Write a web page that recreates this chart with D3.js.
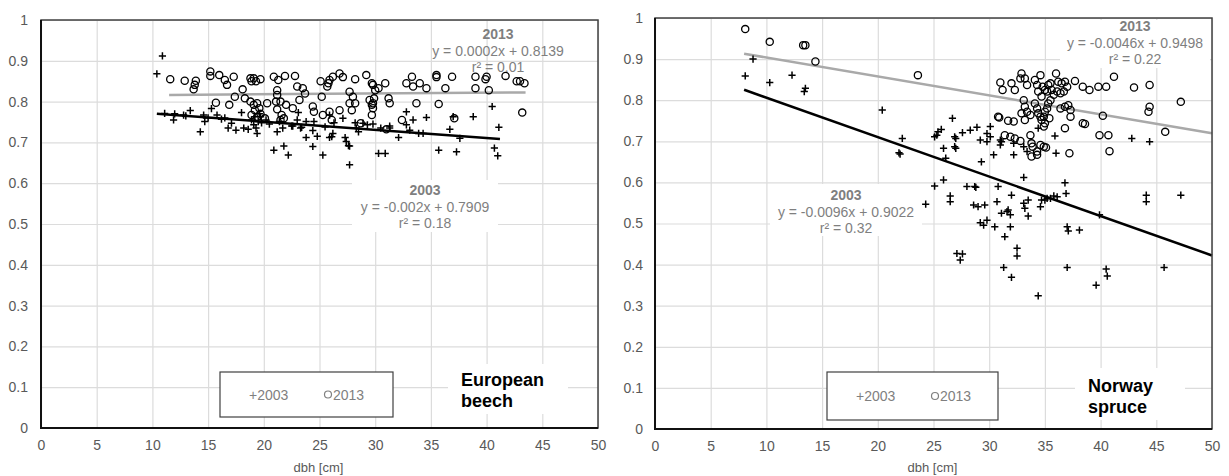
<!DOCTYPE html>
<html>
<head>
<meta charset="utf-8">
<script src="https://cdn.jsdelivr.net/npm/d3@7"></script>
<style>
  body { margin: 0; background: #fff; }
  svg text { font-family: Arial, "Liberation Sans", sans-serif; }
</style>
</head>
<body>
<svg id="chart" width="1229" height="476"></svg>
<script>
// tick labels
const xTicks = [0, 5, 10, 15, 20, 25, 30, 35, 40, 45, 50];
const yTicks = [0, 0.1, 0.2, 0.3, 0.4, 0.5, 0.6, 0.7, 0.8, 0.9, 1];
const years = ["2003", "2013"];

// [dbh, value]
const beech2003 = [[10.4,0.868],[10.9,0.912],[11.1,0.771],[11.9,0.755],[12.8,0.767],[13.4,0.778],[14.3,0.726],[14.6,0.767],[14.7,0.751],[15.3,0.783],[15.8,0.767],[16.2,0.757],[16.8,0.735],[17.1,0.747],[17.5,0.730],[18.0,0.773],[18.2,0.735],[18.6,0.732],[18.9,0.755],[19.1,0.743],[19.2,0.763],[19.3,0.735],[19.4,0.722],[19.5,0.751],[19.7,0.763],[20.9,0.681],[21.2,0.726],[21.4,0.751],[21.8,0.691],[21.7,0.735],[22.2,0.669],[22.5,0.740],[23.0,0.755],[23.1,0.773],[23.4,0.737],[23.8,0.712],[23.8,0.751],[24.4,0.690],[24.5,0.751],[24.4,0.729],[24.8,0.715],[25.3,0.669],[25.5,0.738],[25.9,0.712],[26.2,0.722],[26.3,0.748],[27.1,0.759],[27.3,0.712],[27.4,0.702],[27.7,0.691],[27.7,0.645],[28.2,0.748],[28.5,0.726],[28.9,0.747],[30.3,0.673],[30.9,0.673],[32.1,0.712],[32.8,0.775],[32.8,0.743],[33.4,0.755],[33.1,0.730],[33.9,0.722],[34.3,0.722],[34.6,0.761],[35.7,0.681],[36.7,0.732],[37.0,0.763],[37.3,0.677],[37.6,0.710],[38.8,0.763],[40.5,0.788],[40.7,0.686],[41.0,0.667],[41.1,0.737],[31.3,0.740],[22.6,0.740],[23.3,0.735],[26.1,0.714],[27.6,0.692],[28.3,0.735],[29.3,0.743],[31.3,0.735],[25.9,0.767],[19.8,0.748],[20.2,0.755],[20.5,0.745],[19.6,0.770],[12.0,0.770],[13.0,0.765],[16.5,0.760],[29.8,0.745],[30.5,0.735],[15.0,0.760]];

const beech2013 = [[11.6,0.855],[12.9,0.851],[13.9,0.851],[13.8,0.841],[13.7,0.830],[15.2,0.874],[15.2,0.863],[16.0,0.865],[16.5,0.853],[16.7,0.841],[17.3,0.861],[15.7,0.797],[16.9,0.792],[17.4,0.812],[18.1,0.830],[18.8,0.857],[18.9,0.850],[19.1,0.857],[19.3,0.850],[19.7,0.855],[18.3,0.808],[18.8,0.800],[19.1,0.792],[19.4,0.796],[19.6,0.784],[19.2,0.779],[18.9,0.767],[19.4,0.763],[19.7,0.770],[20.1,0.759],[20.3,0.796],[20.9,0.861],[21.3,0.853],[21.9,0.863],[21.2,0.828],[21.2,0.816],[21.1,0.800],[21.5,0.800],[21.2,0.781],[21.6,0.767],[21.8,0.759],[21.5,0.755],[22.0,0.792],[22.6,0.784],[22.8,0.863],[23.0,0.837],[23.5,0.833],[23.7,0.820],[23.2,0.804],[24.4,0.788],[24.5,0.775],[25.2,0.812],[25.1,0.850],[25.8,0.845],[25.9,0.853],[26.2,0.861],[26.8,0.869],[27.1,0.860],[25.7,0.837],[25.3,0.767],[25.9,0.775],[26.1,0.755],[26.8,0.779],[27.7,0.824],[28.0,0.812],[27.7,0.796],[28.2,0.796],[27.9,0.779],[28.2,0.855],[29.2,0.865],[29.7,0.845],[29.5,0.804],[29.7,0.792],[29.7,0.767],[28.7,0.747],[29.8,0.841],[30.0,0.828],[30.3,0.833],[29.9,0.808],[29.8,0.796],[29.8,0.784],[30.9,0.845],[31.2,0.808],[31.3,0.796],[31.0,0.732],[32.4,0.755],[32.8,0.845],[33.3,0.861],[33.4,0.837],[34.0,0.845],[34.6,0.833],[33.7,0.796],[35.5,0.865],[35.5,0.860],[36.9,0.861],[36.3,0.833],[35.7,0.794],[37.1,0.759],[39.0,0.861],[39.0,0.833],[39.9,0.855],[40.0,0.861],[40.2,0.828],[41.7,0.863],[42.7,0.850],[43.0,0.850],[43.4,0.845],[43.2,0.773]];

const spruce2003 = [[8.8,0.900],[8.1,0.859],[10.3,0.843],[12.3,0.861],[13.5,0.829],[13.4,0.821],[20.4,0.776],[22.2,0.707],[21.9,0.672],[22.0,0.669],[25.3,0.715],[25.4,0.723],[25.7,0.729],[26.7,0.756],[25.9,0.683],[27.0,0.683],[27.0,0.707],[27.6,0.721],[28.3,0.727],[28.9,0.734],[26.1,0.659],[25.1,0.591],[25.9,0.606],[26.5,0.567],[26.5,0.553],[24.3,0.547],[28.0,0.590],[28.7,0.590],[28.6,0.545],[29.0,0.541],[27.1,0.427],[27.6,0.426],[27.4,0.411],[29.2,0.502],[29.8,0.719],[30.1,0.736],[29.2,0.703],[29.8,0.699],[30.1,0.711],[31.0,0.691],[31.1,0.699],[30.4,0.667],[29.3,0.650],[32.2,0.695],[32.2,0.667],[33.1,0.687],[33.4,0.675],[34.4,0.732],[35.9,0.713],[36.0,0.671],[42.8,0.707],[44.4,0.699],[33.1,0.612],[36.8,0.599],[36.9,0.573],[35.8,0.567],[36.1,0.565],[35.5,0.561],[35.0,0.557],[39.9,0.521],[44.1,0.569],[44.1,0.553],[47.2,0.569],[28.8,0.588],[29.6,0.545],[30.8,0.590],[30.7,0.553],[32.0,0.569],[29.8,0.508],[29.5,0.496],[30.5,0.492],[31.9,0.492],[31.1,0.525],[31.6,0.529],[31.9,0.521],[31.7,0.533],[33.1,0.549],[33.2,0.537],[33.5,0.557],[33.5,0.518],[34.6,0.541],[34.7,0.557],[35.2,0.561],[31.4,0.468],[32.5,0.440],[32.5,0.421],[31.3,0.393],[32.0,0.369],[34.4,0.324],[37.0,0.393],[37.0,0.492],[37.1,0.482],[38.1,0.484],[39.6,0.350],[40.5,0.389],[40.6,0.372],[45.7,0.393],[25.1,0.711],[26.9,0.711],[26.9,0.687],[31.0,0.703]];

const spruce2013 = [[8.1,0.973],[10.3,0.942],[13.3,0.934],[13.5,0.934],[14.4,0.894],[23.6,0.861],[31.0,0.843],[31.2,0.825],[30.9,0.758],[31.7,0.750],[32.2,0.748],[31.4,0.715],[31.9,0.711],[32.3,0.707],[32.8,0.701],[32.0,0.841],[32.3,0.825],[32.8,0.853],[32.9,0.865],[33.2,0.853],[33.4,0.837],[33.1,0.800],[33.2,0.784],[33.4,0.772],[32.9,0.768],[33.7,0.764],[33.2,0.752],[33.7,0.715],[33.8,0.695],[33.9,0.687],[34.3,0.667],[33.8,0.663],[34.3,0.675],[34.6,0.691],[34.9,0.687],[34.1,0.849],[34.3,0.837],[34.6,0.861],[34.4,0.821],[34.7,0.809],[34.8,0.833],[35.0,0.825],[35.2,0.821],[35.3,0.837],[35.5,0.841],[35.6,0.825],[34.1,0.792],[34.3,0.780],[34.4,0.768],[34.6,0.760],[34.7,0.752],[34.9,0.760],[35.0,0.772],[35.2,0.780],[35.3,0.792],[35.5,0.800],[35.4,0.756],[35.0,0.744],[34.9,0.736],[35.1,0.685],[36.0,0.865],[36.2,0.845],[36.5,0.841],[36.8,0.845],[37.0,0.833],[36.7,0.821],[36.4,0.817],[36.1,0.821],[35.8,0.813],[36.4,0.780],[36.8,0.784],[37.1,0.788],[37.3,0.776],[37.3,0.760],[36.8,0.732],[37.2,0.671],[37.7,0.847],[38.4,0.833],[39.0,0.825],[39.8,0.833],[40.5,0.833],[41.2,0.857],[38.4,0.744],[38.6,0.742],[40.2,0.762],[39.9,0.715],[40.7,0.715],[40.8,0.676],[43.0,0.831],[44.4,0.837],[44.4,0.784],[44.3,0.772],[45.8,0.723],[47.2,0.796],[30.8,0.760]];

// trend lines: slope, intercept, x from, x to
const beechTrend2003 = [-0.002, 0.7909, 10.4, 41.2];
const beechTrend2013 = [0.0002, 0.8139, 11.5, 43.5];
const spruceTrend2003 = [-0.0096, 0.9022, 8.0, 50];
const spruceTrend2013 = [-0.0046, 0.9498, 8.0, 50];

const beechEq = ["y = -0.002x + 0.7909", "r² = 0.18", "y = 0.0002x + 0.8139", "r² = 0.01"];
const spruceEq = ["y = -0.0096x + 0.9022", "r² = 0.32", "y = -0.0046x + 0.9498", "r² = 0.22"];

const svg = d3.select("#chart");
const gray = "#7f7f7f";

function drawPanel(cfg) {
  const x = d3.scaleLinear().domain([0, 50]).range([cfg.left, cfg.right]);
  const y = d3.scaleLinear().domain([0, 1]).range([cfg.bottom, cfg.top]);
  const g = svg.append("g");
  const h = cfg.bottom - cfg.top, w = cfg.right - cfg.left;

  // grid
  g.append("g")
    .attr("transform", "translate(0," + cfg.bottom + ")")
    .call(d3.axisBottom(x).tickValues(xTicks).tickSize(-h).tickFormat(""))
    .call(a => a.select(".domain").remove())
    .selectAll("line").attr("stroke", "#dcdcdc").attr("stroke-width", 1.2);
  g.append("g")
    .attr("transform", "translate(" + cfg.left + ",0)")
    .call(d3.axisLeft(y).tickValues(yTicks).tickSize(-w).tickFormat(""))
    .call(a => a.select(".domain").remove())
    .selectAll("line").attr("stroke", "#dcdcdc").attr("stroke-width", 1.2);

  // white boxes behind labels (hide grid like the original)
  cfg.boxes.forEach(b => {
    g.append("rect").attr("x", b[0]).attr("y", b[1]).attr("width", b[2]).attr("height", b[3]).attr("fill", "#fff");
  });

  // tick labels
  g.append("g")
    .attr("transform", "translate(0," + cfg.bottom + ")")
    .call(d3.axisBottom(x).tickValues(xTicks).tickSize(0).tickPadding(12))
    .call(a => a.select(".domain").remove())
    .selectAll("text").attr("fill", "#595959").style("font-size", "14px");
  g.append("g")
    .attr("transform", "translate(" + cfg.left + ",0)")
    .call(d3.axisLeft(y).tickValues(yTicks).tickSize(0).tickPadding(cfg.yPad).tickFormat(d3.format("")))
    .call(a => a.select(".domain").remove())
    .selectAll("text").attr("fill", "#595959").style("font-size", "14px");

  g.append("text").attr("x", (cfg.left + cfg.right) / 2 - 1).attr("y", 472)
    .attr("text-anchor", "middle").attr("fill", "#595959").style("font-size", "13px").text("dbh [cm]");

  // trend lines
  const trend = (t, color) => {
    g.append("line")
      .attr("x1", x(t[2])).attr("y1", y(t[0] * t[2] + t[1]))
      .attr("x2", x(t[3])).attr("y2", y(t[0] * t[3] + t[1]))
      .attr("stroke", color).attr("stroke-width", 2.5);
  };
  trend(cfg.trend2013, "#a9a9a9");
  trend(cfg.trend2003, "#000");

  // points
  g.append("g").selectAll("path").data(cfg.d2003).join("path")
    .attr("transform", d => "translate(" + x(d[0]) + "," + y(d[1]) + ")")
    .attr("d", "M-3.6,0H3.6M0,-3.6V3.6")
    .attr("stroke", "#000").attr("stroke-width", 1.5).attr("fill", "none");
  g.append("g").selectAll("circle").data(cfg.d2013).join("circle")
    .attr("cx", d => x(d[0])).attr("cy", d => y(d[1])).attr("r", 3.6)
    .attr("stroke", "#000").attr("stroke-width", 1.3).attr("fill", "none");

  // frame
  g.append("rect").attr("x", cfg.left).attr("y", cfg.top).attr("width", w).attr("height", h)
    .attr("fill", "none").attr("stroke", "#404040").attr("stroke-width", 1.5);
  g.append("path")
    .attr("d", "M" + cfg.left + "," + cfg.top + "V" + cfg.bottom + "H" + cfg.right)
    .attr("fill", "none").attr("stroke", "#111").attr("stroke-width", 2);

  // equation labels
  const eq = (cx, cy, year, lines) => {
    const t = g.append("text").attr("text-anchor", "middle").attr("fill", gray).style("font-size", "14px");
    t.append("tspan").attr("x", cx).attr("y", cy).style("font-weight", "bold").text(year);
    lines.forEach((l, i) => t.append("tspan").attr("x", cx).attr("y", cy + 16.5 * (i + 1)).text(l));
  };
  eq(cfg.eq2003[0], cfg.eq2003[1], years[0], cfg.eqText.slice(0, 2));
  eq(cfg.eq2013[0], cfg.eq2013[1], years[1], cfg.eqText.slice(2, 4));

  // species name
  const sp = g.append("text").attr("fill", "#000").style("font-size", "18px").style("font-weight", "bold");
  cfg.species.forEach((s, i) => sp.append("tspan").attr("x", cfg.spX).attr("y", cfg.spY + 21 * i).text(s));

  // legend
  const L = cfg.legend;
  g.append("rect").attr("x", L[0]).attr("y", L[1]).attr("width", L[2]).attr("height", L[3])
    .attr("fill", "#fff").attr("stroke", "#404040").attr("stroke-width", 1.2);
  const ly = L[1] + L[3] / 2;
  g.append("text").attr("x", L[0] + 29).attr("y", ly + 5).attr("fill", gray).style("font-size", "14px").text("+" + years[0]);
  g.append("circle").attr("cx", L[0] + 108).attr("cy", ly).attr("r", 3.5)
    .attr("fill", "none").attr("stroke", gray).attr("stroke-width", 1.2);
  g.append("text").attr("x", L[0] + 113).attr("y", ly + 5).attr("fill", gray).style("font-size", "14px").text(years[1]);
}

drawPanel({
  left: 41, right: 598, top: 20, bottom: 428, yPad: 13,
  d2003: beech2003, d2013: beech2013,
  trend2003: beechTrend2003, trend2013: beechTrend2013,
  eqText: beechEq, eq2003: [425, 195], eq2013: [498, 39],
  boxes: [[352, 180, 146, 52], [448, 364, 120, 50]],
  species: ["European", "beech"], spX: 461, spY: 386,
  legend: [220, 372, 173, 45]
});

drawPanel({
  left: 655, right: 1212, top: 18, bottom: 429, yPad: 12,
  d2003: spruce2003, d2013: spruce2013,
  trend2003: spruceTrend2003, trend2013: spruceTrend2013,
  eqText: spruceEq, eq2003: [846, 200], eq2013: [1135, 31],
  boxes: [[770, 184, 152, 52], [1060, 20, 150, 48], [1075, 368, 110, 52]],
  species: ["Norway", "spruce"], spX: 1088, spY: 392,
  legend: [827, 372, 171, 48]
});
</script>
</body>
</html>
